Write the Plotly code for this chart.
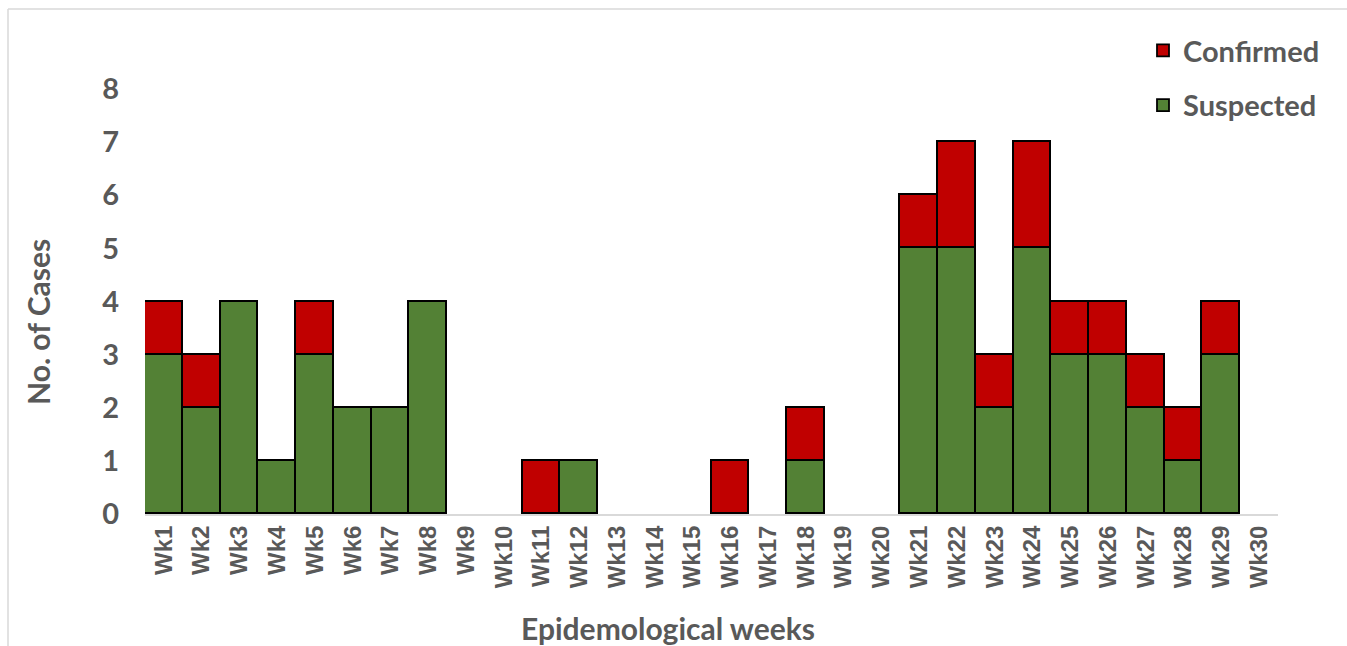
import plotly.graph_objects as go

weeks = [f"Wk{i}" for i in range(1, 31)]
suspected = [3, 2, 4, 1, 3, 2, 2, 4, 0, 0, 0, 1, 0, 0, 0, 0, 0, 1, 0, 0,
             5, 5, 2, 5, 3, 3, 2, 1, 3, 0]
confirmed = [1, 1, 0, 0, 1, 0, 0, 0, 0, 0, 1, 0, 0, 0, 0, 1, 0, 1, 0, 0,
             1, 2, 1, 2, 1, 1, 1, 1, 1, 0]
y_ticks = list(range(0, 9))

GREEN = "#538135"
RED = "#C00000"
GRAY = "#595959"
CAL = "Lato, 'Open Sans', sans-serif"

W, H = 1347, 646
L, R, T, B = 145, 69, 89, 132
pw, ph = W - L - R, H - T - B

def px(x):
    return (x - L) / pw

def py(y):
    return (H - B - y) / ph

def nz(vals):
    # zero-height bars are not drawn (avoid outline artefacts on the axis)
    return [v if v else None for v in vals]

fig = go.Figure()
fig.add_trace(go.Bar(x=weeks, y=nz(suspected), name="Suspected",
                     marker=dict(color=GREEN, line=dict(color="black", width=1.8)),
                     legendgroup="s", legendrank=2))
fig.add_trace(go.Bar(x=weeks, y=nz(confirmed), name="Confirmed",
                     marker=dict(color=RED, line=dict(color="black", width=1.8)),
                     legendgroup="c", legendrank=1))

fig.update_layout(
    width=W, height=H,
    barmode="stack", bargap=0,
    plot_bgcolor="white", paper_bgcolor="white",
    margin=dict(l=L, r=R, t=T, b=B, autoexpand=False),
    showlegend=True,
    legend=dict(x=px(1143), y=py(25), xanchor="left", yanchor="top",
                traceorder="grouped", tracegroupgap=14,
                font=dict(family=CAL, size=29, color=GRAY, weight="bold"),
                bgcolor="rgba(0,0,0,0)"),
    xaxis=dict(showgrid=False, showline=True, linecolor="#D9D9D9", linewidth=2,
               ticks="", tickangle=-90,
               tickfont=dict(family="Liberation Sans, Arial, sans-serif", size=24,
                             color=GRAY, weight="bold"),
               range=[-0.5, 29.5]),
    yaxis=dict(range=[0, 8], tickvals=y_ticks, showgrid=False, zeroline=False,
               showline=False, ticks="", ticklabelstandoff=25,
               tickfont=dict(family=CAL, size=29, color=GRAY, weight="bold")),
    annotations=[
        dict(text="Epidemological weeks", x=px(668), y=py(628), xref="paper", yref="paper",
             showarrow=False, xanchor="center", yanchor="middle",
             font=dict(family=CAL, size=30, color=GRAY, weight="bold")),
        dict(text="No. of Cases", x=px(38), y=py(322), xref="paper", yref="paper",
             showarrow=False, xanchor="center", yanchor="middle", textangle=-90,
             font=dict(family=CAL, size=30, color=GRAY, weight="bold")),
    ],
    shapes=[
        dict(type="line", xref="paper", yref="paper", x0=px(8), x1=px(1347),
             y0=py(9), y1=py(9), line=dict(color="#D9D9D9", width=1.5)),
        dict(type="line", xref="paper", yref="paper", x0=px(8), x1=px(8),
             y0=py(9), y1=py(646), line=dict(color="#D9D9D9", width=1.5)),
    ],
)

fig.write_html("out.html", config={"displayModeBar": False},
               post_script="document.body.style.margin='0';document.body.style.overflow='hidden';")
